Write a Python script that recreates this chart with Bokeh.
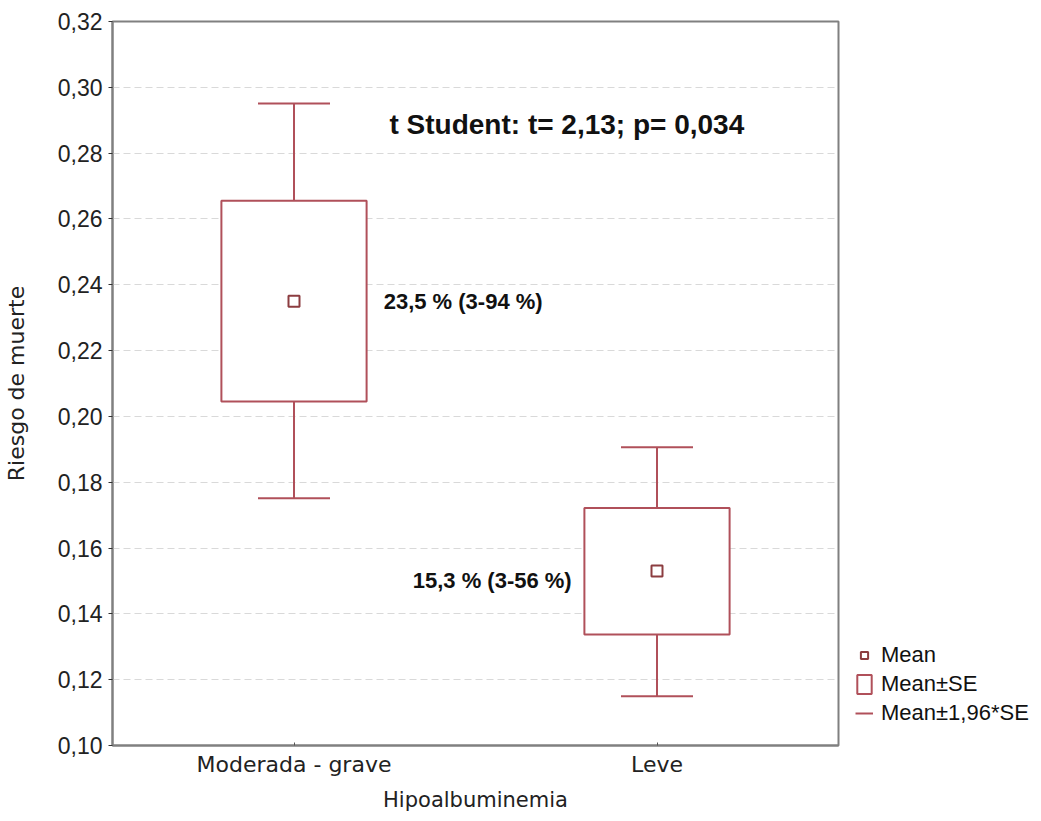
from bokeh.plotting import figure
from bokeh.models import (ColumnDataSource, FactorRange, Range1d, FixedTicker,
                          CustomJSTickFormatter, Legend, LegendItem, Label)
from bokeh.embed import file_html
from bokeh.resources import INLINE

# ---- data ----
categories = ["Moderada - grave", "Leve"]
mean_values = [0.235, 0.153]
se_lower = [0.2045, 0.1337]
se_upper = [0.2655, 0.1722]
ci_lower = [0.1751, 0.1150]
ci_upper = [0.2951, 0.1906]
y_ticks = [0.10, 0.12, 0.14, 0.16, 0.18, 0.20, 0.22, 0.24, 0.26, 0.28, 0.30, 0.32]
test_text = "t Student: t= 2,13; p= 0,034"
group_texts = ["23,5 % (3-94 %)", "15,3 % (3-56 %)"]
legend_labels = ["Mean", "Mean±SE", "Mean±1,96*SE"]

BOX_C = "#b0505a"
MEAN_C = "#8c3d40"
AXIS_C = "#808080"

src = ColumnDataSource(dict(cat=categories, mean=mean_values, se_lo=se_lower,
                            se_hi=se_upper, ci_lo=ci_lower, ci_hi=ci_upper))

p = figure(x_range=FactorRange(*categories, range_padding=0),
           y_range=Range1d(0.10, 0.32),
           frame_width=726, frame_height=724,
           min_border_left=110, min_border_top=21, min_border_right=20,
           min_border_bottom=68,
           output_backend="svg", toolbar_location=None)

p.background_fill_color = "white"
p.border_fill_color = "white"
p.outline_line_color = AXIS_C
p.outline_line_width = 2

# grid
p.xgrid.visible = False
p.ygrid.ticker = FixedTicker(ticks=y_ticks)
p.ygrid.grid_line_color = "#d9d9d9"
p.ygrid.grid_line_dash = "7 4"
p.ygrid.grid_line_width = 1

# y axis
p.yaxis.ticker = FixedTicker(ticks=y_ticks)
p.yaxis.formatter = CustomJSTickFormatter(code="return tick.toFixed(2).replace('.', ',');")
p.yaxis.axis_label = "Riesgo de muerte"
p.yaxis.axis_label_text_font = "DejaVu Sans"
p.yaxis.axis_label_text_font_style = "normal"
p.yaxis.axis_label_text_font_size = "22px"
p.yaxis.axis_label_text_color = "#222222"
p.yaxis.axis_label_standoff = 26
p.yaxis.major_label_text_font = "Liberation Sans"
p.yaxis.major_label_text_font_size = "23px"
p.yaxis.major_label_text_color = "#222222"
p.yaxis.major_label_standoff = 6
p.yaxis.axis_line_color = AXIS_C
p.yaxis.axis_line_width = 2
p.yaxis.major_tick_line_color = "#333333"
p.yaxis.major_tick_out = 4
p.yaxis.major_tick_in = 0
p.yaxis.minor_tick_line_color = None

# x axis
p.xaxis.axis_label = "Hipoalbuminemia"
p.xaxis.axis_label_text_font = "DejaVu Sans"
p.xaxis.axis_label_text_font_style = "normal"
p.xaxis.axis_label_text_font_size = "21px"
p.xaxis.axis_label_text_color = "#222222"
p.xaxis.axis_label_standoff = 8
p.xaxis.major_label_text_font = "DejaVu Sans"
p.xaxis.major_label_text_font_size = "22px"
p.xaxis.major_label_text_color = "#222222"
p.xaxis.major_label_standoff = 6
p.xaxis.axis_line_color = AXIS_C
p.xaxis.axis_line_width = 2
p.xaxis.major_tick_line_color = "#555555"
p.xaxis.major_tick_out = 0
p.xaxis.major_tick_in = 3

# whiskers (drawn first, box covers the middle)
stem = p.segment(x0="cat", y0="ci_lo", x1="cat", y1="ci_hi", source=src,
                 line_color=BOX_C, line_width=2)
cap_hi = p.scatter(x="cat", y="ci_hi", marker="dash", size=72, source=src,
                   line_color=BOX_C, line_width=2)
cap_lo = p.scatter(x="cat", y="ci_lo", marker="dash", size=72, source=src,
                   line_color=BOX_C, line_width=2)
box = p.vbar(x="cat", width=0.4, bottom="se_lo", top="se_hi", source=src,
             fill_color="white", line_color=BOX_C, line_width=2)
mean_r = p.scatter(x="cat", y="mean", marker="square", size=11, source=src,
                   fill_color="white", line_color=MEAN_C, line_width=2)

# annotations
p.add_layout(Label(x=0.763, y=0.2887, text=test_text, text_font="Liberation Sans",
                   text_font_style="bold", text_font_size="28px",
                   text_baseline="middle", text_align="left", text_color="#111111"))
p.add_layout(Label(x=0.747, y=mean_values[0], text=group_texts[0], text_font="Liberation Sans",
                   text_font_style="bold", text_font_size="22px",
                   text_baseline="middle", text_align="left", text_color="#111111"))
p.add_layout(Label(x=1.265, y=0.1500, text=group_texts[1], text_font="Liberation Sans",
                   text_font_style="bold", text_font_size="22px",
                   text_baseline="middle", text_align="right", text_color="#111111"))

legend = Legend(items=[LegendItem(label=legend_labels[0], renderers=[mean_r]),
                       LegendItem(label=legend_labels[1], renderers=[box]),
                       LegendItem(label=legend_labels[2], renderers=[stem])],
                location=(13, 15), margin=8, padding=4, spacing=3,
                glyph_width=18, glyph_height=24, label_standoff=8,
                label_text_font="Liberation Sans", label_text_font_size="22px",
                label_text_color="#111111", border_line_alpha=0,
                background_fill_alpha=0)
p.add_layout(legend, "right")

open("out.html", "w").write(file_html(p, INLINE))
